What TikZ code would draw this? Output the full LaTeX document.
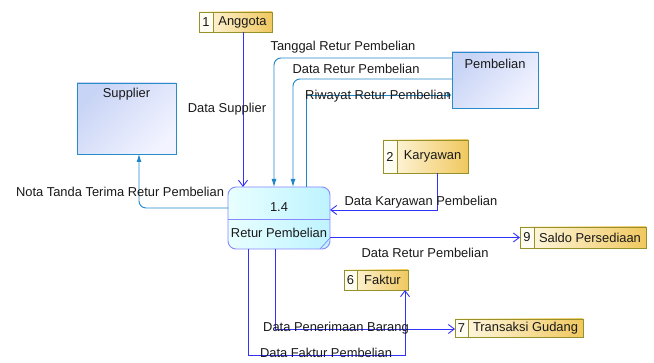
\documentclass[tikz,border=0pt]{standalone}
\usepackage{fontspec}
\setmainfont{Liberation Sans}
\usetikzlibrary{arrows.meta}
\definecolor{txt}{RGB}{25,25,25}
\definecolor{flowblue}{RGB}{50,50,250}
\definecolor{flowsteel}{RGB}{30,135,200}
\definecolor{storeborder}{RGB}{150,145,40}
\definecolor{storeL}{RGB}{255,250,232}
\definecolor{storeR}{RGB}{240,200,95}
\definecolor{numfill}{RGB}{255,253,242}
\definecolor{entborder}{RGB}{40,140,200}
\definecolor{entA}{RGB}{200,212,245}
\definecolor{entB}{RGB}{242,243,255}
\definecolor{procborder}{RGB}{135,135,255}
\definecolor{procA}{RGB}{232,255,255}
\definecolor{procB}{RGB}{190,243,255}
\newcommand{\dstore}[8]{%
  \node[storebox, minimum width={(#4-#2)*1pt}, minimum height={(#5-#3)*1pt}] (#1) at ({(#2+#4)/2},{(#3+#5)/2}) {};
  \fill[numfill] (#2,#3) rectangle (#6,#5);
  \draw[storeline] (#2,#3) rectangle (#4,#5) (#6,#3) -- (#6,#5);
  \node[lbl] (#1num) at ({(#2+#6)/2},{(#3+#5)/2}) {#7};
  \node[lbl] (#1txt) at ({(#6+#4)/2},{(#3+#5)/2}) {#8};
}
\begin{document}
\begin{tikzpicture}[x=1pt,y=-1pt,
  font=\fontsize{12.9}{15}\selectfont,
  lbl/.style={inner sep=1pt, text=txt},
  storebox/.style={left color=storeL, right color=storeR, inner sep=0pt, outer sep=0pt},
  storeline/.style={draw=storeborder, line width=0.9pt},
  entity/.style={draw=entborder, line width=0.9pt, top color=entA, bottom color=entB, shading angle=45, inner sep=0pt, outer sep=0pt},
  procbox/.style={draw=procborder, line width=0.9pt, rounded corners=8pt, left color=procA, right color=procB, inner sep=0pt, outer sep=0pt},
  flowB/.style={draw=flowblue, line width=0.9pt},
  flowS/.style={draw=flowsteel, line width=0.9pt},
  openarrow/.style={-{Straight Barb[length=6pt,width=9pt]}},
  fillarrow/.style={-{Latex[length=8pt,width=5pt]}}
]
\useasboundingbox (0,0) rectangle (654,363);

% external entities
\node[entity, minimum width=99pt, minimum height=71pt] (sup) at (126.5,118.5) {};
\node[lbl] (suptxt) at (126.5,94) {Supplier};
\node[entity, minimum width=86pt, minimum height=56pt] (pemb) at (495,80) {};
\node[lbl] (pembtxt) at (495,64) {Pembelian};

% process
\node[procbox, minimum width=102pt, minimum height=62pt] (p) at (279,218) {};
\draw[draw=procborder, line width=0.9pt] ([yshift=-1pt]p.west) -- ([yshift=-1pt]p.east);
\draw[draw=procborder, line width=0.7pt] ([yshift=11pt]p.south east) -- ([xshift=-10pt]p.south east);
\node[lbl] (pid) at (279,207.5) {1.4};
\node[lbl] (pname) at (279,232.5) {Retur Pembelian};

% data stores
\dstore{ang}{199}{12}{272}{32}{213}{1}{Anggota}
\dstore{kary}{383}{140}{468}{173}{397}{2}{Karyawan}
\dstore{saldo}{520}{227}{646}{248}{534}{9}{Saldo Persediaan}
\dstore{fak}{344}{270}{408}{290}{357}{6}{Faktur}
\dstore{trans}{455}{319}{583}{337}{468}{7}{Transaksi Gudang}

% coordinates for bends
\coordinate (a1) at (243,32);
\coordinate (t1) at (274,58);
\coordinate (d1) at (293,79);
\coordinate (r1) at (306,95);
\coordinate (n1) at (139,208);
\coordinate (k1) at (437,210);
\coordinate (f1) at (248,355);
\coordinate (f2) at (405,355);
\coordinate (g1) at (275,329);

% connectors
\draw[flowB, openarrow] (a1) -- (a1 |- p.north);
\draw[flowS, fillarrow, rounded corners=7pt] (pemb.west |- t1) -- (t1) -- (t1 |- p.north);
\draw[flowS, fillarrow, rounded corners=7pt] (pemb.west |- d1) -- (d1) -- (d1 |- p.north);
\draw[flowS, -{Latex[length=5pt,width=5pt]}] (r1 |- p.north) -- (r1) -- (r1 -| pemb.west);
\draw[flowS, fillarrow, rounded corners=7pt] (p.west |- n1) -- (n1) -- (n1 |- sup.south);
\draw[flowB, openarrow] (kary.south -| k1) -- (k1) -- (k1 -| p.east);
\draw[flowB, openarrow] (p.east |- saldo.west) -- (saldo.west);
\draw[flowB, openarrow] (f1 |- p.south) -- (f1) -- (f2) -- (f2 |- fak.south);
\draw[flowB, openarrow] (g1 |- p.south) -- (g1) -- (g1 -| trans.west);

% labels
\node[lbl] (l1) at (227,109) {Data Supplier};
\node[lbl] (l2) at (343,47) {Tanggal Retur Pembelian};
\node[lbl] (l3) at (356,69) {Data Retur Pembelian};
\node[lbl] (l4) at (378,96) {Riwayat Retur Pembelian};
\node[lbl] (l5) at (120,192) {Nota Tanda Terima Retur Pembelian};
\node[lbl] (l6) at (421,202) {Data Karyawan Pembelian};
\node[lbl] (l7) at (425,253) {Data Retur Pembelian};
\node[lbl] (l8) at (336,328) {Data Penerimaan Barang};
\node[lbl] (l9) at (326,353) {Data Faktur Pembelian};
\end{tikzpicture}
\end{document}
